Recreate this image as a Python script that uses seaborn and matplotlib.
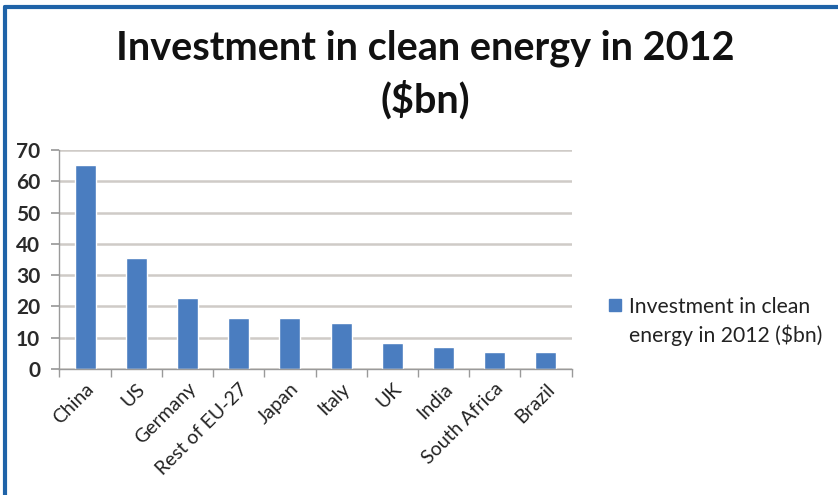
import matplotlib
matplotlib.use("Agg")
import matplotlib.pyplot as plt
import seaborn as sns
import pandas as pd
from matplotlib.lines import Line2D

countries = ["China", "US", "Germany", "Rest of EU-27", "Japan", "Italy",
             "UK", "India", "South Africa", "Brazil"]
investment = [65.1, 35.6, 22.8, 16.2, 16.3, 14.7, 8.3, 6.9, 5.5, 5.3]
series_name = "Investment in clean\nenergy in 2012 ($bn)"
title_text = "Investment in clean energy in 2012\n($bn)"
yticks = [0, 10, 20, 30, 40, 50, 60, 70]

df = pd.DataFrame({"country": countries, "value": investment,
                   "series": [series_name] * len(countries)})

sns.set_theme(style="white")
plt.rcParams["font.family"] = ["Lato", "DejaVu Sans"]

fig = plt.figure(figsize=(8.38, 4.95), dpi=100)
ax = fig.add_axes([0.071, 0.2545, 0.611, 0.4424])

bar_color = "#4A7DC0"
sns.barplot(data=df, x="country", y="value", hue="series",
            palette=[bar_color], width=0.41, dodge=False, ax=ax,
            legend=False, saturation=1)

ax.set_ylim(0, 70)
ax.set_xlim(-0.5, len(countries) - 0.5)
ax.set_yticks(yticks)
ax.set_yticklabels([str(v) for v in yticks], fontsize=15, fontweight="bold",
                   color="#2A2A2A")
ax.yaxis.grid(True, color="#CFCBC7", linewidth=1.8)
ax.set_axisbelow(True)
ax.set_xlabel("")
ax.set_ylabel("")

for s in ["top", "right"]:
    ax.spines[s].set_visible(False)
for s in ["left", "bottom"]:
    ax.spines[s].set_color("#9A9A9A")
    ax.spines[s].set_linewidth(1.0)

ax.tick_params(axis="y", which="both", left=True, length=6, color="#9A9A9A", pad=8)
# x ticks between categories
ax.set_xticks([i + 0.5 for i in range(-1, len(countries))], minor=True)
ax.set_xticks(range(len(countries)))
ax.set_xticklabels(countries, rotation=45, ha="right", rotation_mode="anchor",
                   fontsize=14, color="#222222")
ax.tick_params(axis="x", which="major", length=0, pad=8)
ax.tick_params(axis="x", which="minor", bottom=True, length=6, color="#9A9A9A")

fig.suptitle(title_text, x=0.508, y=0.940, va="top", fontsize=28.5,
             fontweight="bold", color="#111111", linespacing=1.4)

handle = Line2D([0], [0], marker="s", color="none", markerfacecolor=bar_color,
                markeredgecolor=bar_color, markersize=8)
leg = fig.legend([handle], [series_name], loc="upper left",
                 bbox_to_anchor=(0.714, 0.422), frameon=False, fontsize=15.2,
                 handlelength=0.6, handleheight=1.0, handletextpad=0.35,
                 borderpad=0)
for t in leg.get_texts():
    t.set_color("#222222")
    t.set_linespacing(1.45)
for col in leg._legend_handle_box.get_children():
    for item in col.get_children():
        item.align = "top"

# border lines of the frame (left and top)
fig.add_artist(Line2D([0.0065, 0.0065], [0.0, 0.985], transform=fig.transFigure,
                      color="#1F63A8", linewidth=3))
fig.add_artist(Line2D([0.0065, 1.0], [0.985, 0.985], transform=fig.transFigure,
                      color="#1F63A8", linewidth=3))

fig.savefig("out.png", dpi=100, facecolor="white")
